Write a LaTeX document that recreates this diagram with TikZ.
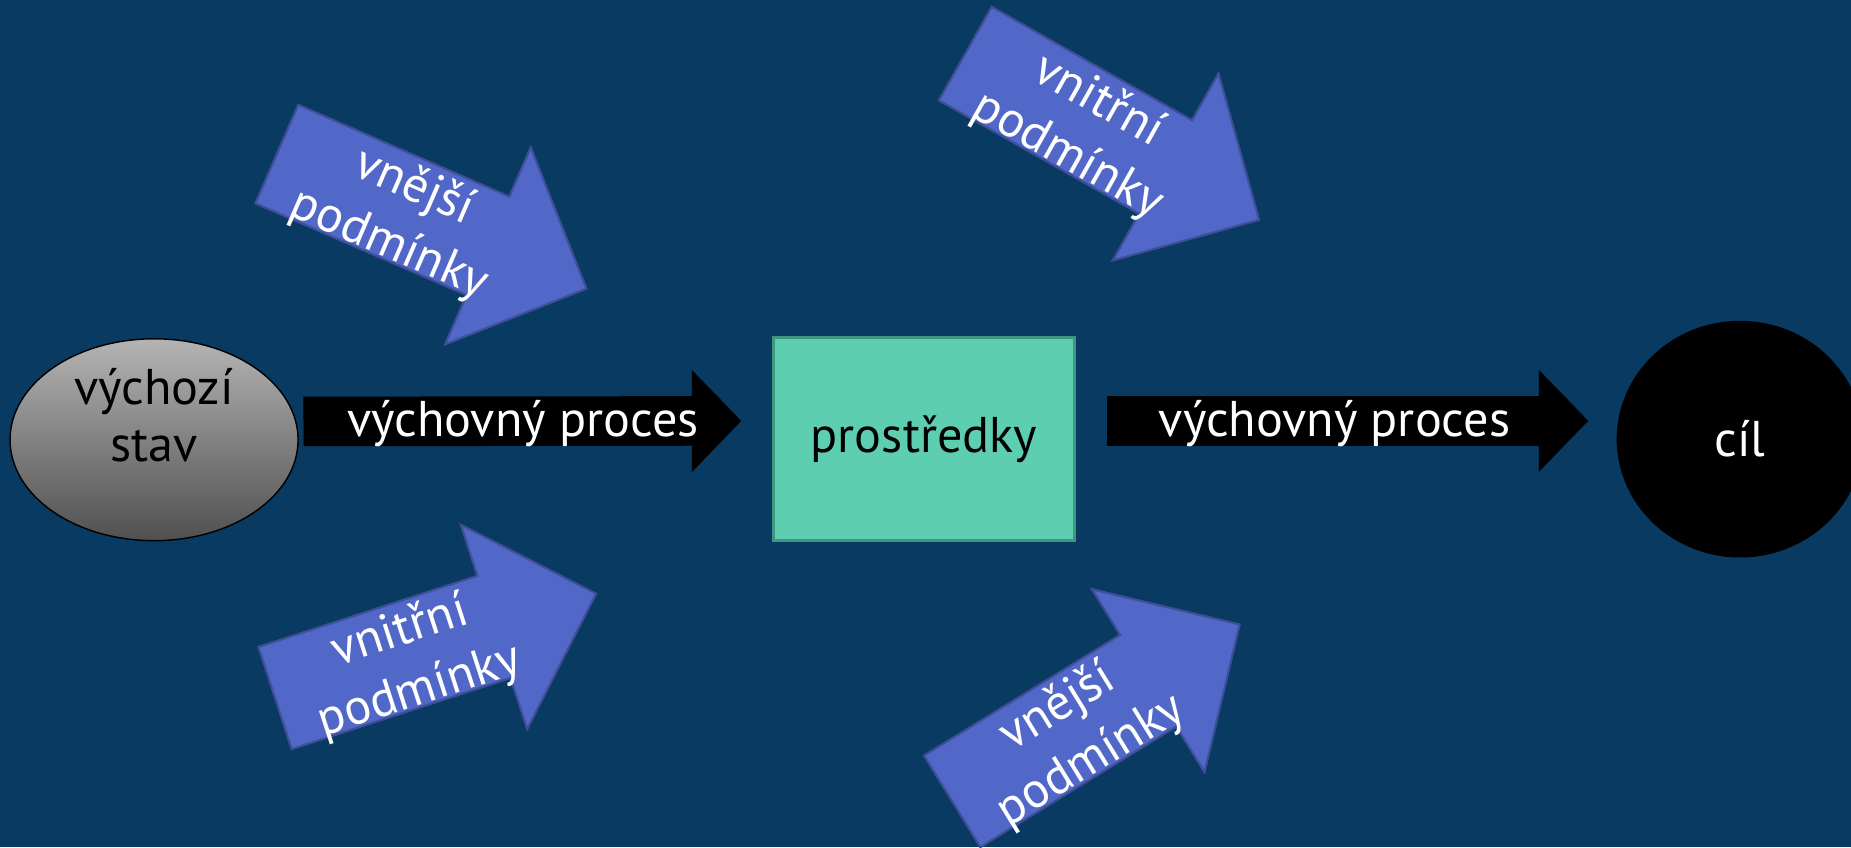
\documentclass[tikz,border=0pt]{standalone}
\usepackage{fontspec}
\setmainfont{PT Sans}
\usepackage{tikz}
\usetikzlibrary{arrows.meta, shapes.geometric}

\definecolor{bgblue}{RGB}{9,58,97}
\definecolor{condblue}{RGB}{82,104,200}
\definecolor{condedge}{RGB}{62,78,152}
\definecolor{meansfill}{RGB}{93,207,176}
\definecolor{meansedge}{RGB}{62,150,128}
\definecolor{graytop}{RGB}{180,180,180}
\definecolor{graybot}{RGB}{80,80,80}

\begin{document}
\begin{tikzpicture}[x=0.1mm, y=-0.1mm, line join=miter, every node/.style={font=\fontsize{12.1}{13.7}\selectfont},
	start/.style={ellipse, draw=black, line width=0.12mm, top color=graytop, bottom color=graybot, minimum width=24.4mm, minimum height=17.1mm},
	means/.style={rectangle, draw=meansedge, fill=meansfill, line width=0.25mm, minimum width=25.5mm, minimum height=17.2mm},
	goal/.style={ellipse, fill=black, text=white, minimum width=20.9mm, minimum height=20.05mm},
	procarrow/.style={draw=black, line width=4.2mm, -{Triangle[length=4.2mm, width=8.4mm]}},
	proclabel/.style={text=white},
	condarrow/.style={fill=condblue, draw=condedge, line width=0.18mm},
	condlabel/.style={text=white, align=center, transform shape, font=\fontsize{12.1}{15}\selectfont}]
	\useasboundingbox (0,0) rectangle (1568,717.5);
	\fill[bgblue] (0,0) rectangle (1568,717.5);
	\clip (0,0) rectangle (1568,717.5);

	% main line
	\node[start] (start) at (130.5,372.5) {};
	\node[align=center] (startText) at (130.5,352) {výchozí\\stav};
	\node[means] (means) at (782.5,372) {prostředky};
	\node[goal] (goal) at (1474,372) {cíl};

	\draw[procarrow, shorten <=0.4mm, shorten >=2.57mm] ([yshift=1.55mm]start.east) -- ([yshift=1.55mm]means.west)
		node[midway, proclabel, xshift=-1.05mm, yshift=-0.2mm] (proc1) {výchovný proces};
	\draw[procarrow, shorten <=2.67mm, shorten >=2.33mm] ([yshift=1.55mm]means.east) -- ([yshift=1.55mm]goal.west)
		node[midway, proclabel, xshift=-0.97mm, yshift=-0.2mm] (proc2) {výchovný proces};

	% conditions
	\begin{scope}[shift={(234.5,130.5)}, rotate=-23.5]
		\draw[condarrow] (0,-45.5) -- (195,-45.5) -- (195,-91) -- (286,0) -- (195,91) -- (195,45.5) -- (0,45.5) -- cycle;
		\node[condlabel] (outerA) at (118,6) {vnější\\podmínky};
	\end{scope}
	\begin{scope}[shift={(233,591.3)}, rotate=18]
		\draw[condarrow] (0,-45.5) -- (195,-45.5) -- (195,-91) -- (286,0) -- (195,91) -- (195,45.5) -- (0,45.5) -- cycle;
		\node[condlabel] (innerA) at (118,6) {vnitřní\\podmínky};
	\end{scope}
	\begin{scope}[shift={(817.7,45.4)}, rotate=-29.5]
		\draw[condarrow] (0,-45.5) -- (195,-45.5) -- (195,-91) -- (286,0) -- (195,91) -- (195,45.5) -- (0,45.5) -- cycle;
		\node[condlabel] (innerB) at (118,6) {vnitřní\\podmínky};
	\end{scope}
	\begin{scope}[shift={(806.6,678.8)}, rotate=31.6]
		\draw[condarrow] (0,-45.5) -- (195,-45.5) -- (195,-91) -- (286,0) -- (195,91) -- (195,45.5) -- (0,45.5) -- cycle;
		\node[condlabel] (outerB) at (118,6) {vnější\\podmínky};
	\end{scope}
\end{tikzpicture}
\end{document}
